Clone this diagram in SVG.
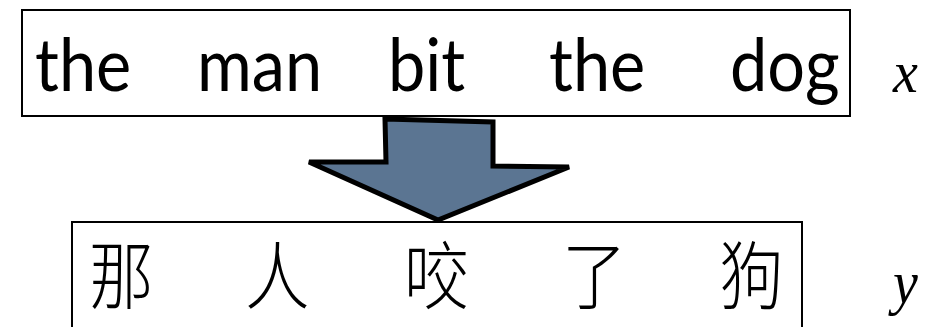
<svg xmlns="http://www.w3.org/2000/svg" width="927" height="327" viewBox="0 0 927 327">
<style>
.box{fill:#fff;stroke:#000;stroke-width:2}
.en{font-family:"Lato","Open Sans","Liberation Sans",sans-serif;font-size:68px;fill:#000}
.zh{font-family:"Noto Sans CJK SC","Noto Sans CJK TC",sans-serif;font-size:68px;font-weight:300;fill:#000}
.var{font-family:"Liberation Serif","DejaVu Serif",serif;font-style:italic;font-size:56px;fill:#000}
</style>
<rect width="927" height="327" fill="#fff"/>
<g id="source">
<rect class="box" x="22" y="10" width="828" height="106"/>
<text class="en" transform="translate(35,91) scale(0.98,1.08)">the</text>
<text class="en" transform="translate(197,91) scale(0.98,1.08)">man</text>
<text class="en" transform="translate(388,91) scale(0.98,1.08)">bit</text>
<text class="en" transform="translate(549,91) scale(0.98,1.08)">the</text>
<text class="en" transform="translate(730,91) scale(0.98,1.08)">dog</text>
</g>
<text id="label-x" class="var" transform="translate(893,92) scale(1,1.05)">x</text>
<g id="target">
<rect class="box" x="72" y="222" width="730" height="120"/>
<text class="zh" transform="translate(89,303) scale(0.95,1.09)">那</text>
<text class="zh" transform="translate(245,303) scale(0.95,1.09)">人</text>
<text class="zh" transform="translate(404,303) scale(0.95,1.09)">咬</text>
<text class="zh" transform="translate(562,303) scale(0.95,1.09)">了</text>
<text class="zh" transform="translate(719,303) scale(0.95,1.09)">狗</text>
</g>
<text id="label-y" class="var" transform="translate(893,303) scale(1,1.1)">y</text>
<g id="connectors">
<path d="M385,119 L493,122 L493,166 L569,167 L438,220 L309,162 L386,162 Z" fill="#5b7592" stroke="#000" stroke-width="5" stroke-linejoin="miter"/>
</g>
</svg>
